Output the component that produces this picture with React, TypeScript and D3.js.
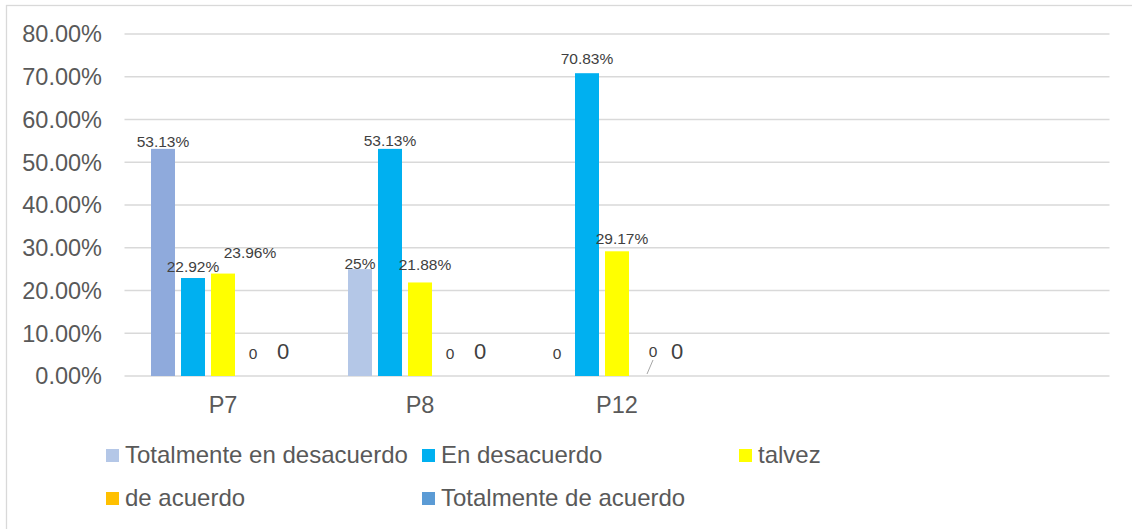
import * as d3 from 'd3';

// Categories (last two slots are empty in the original chart)
const categories = ['P7', 'P8', 'P12', '', ''];

const seriesNames = [
  'Totalmente en desacuerdo',
  'En desacuerdo',
  'talvez',
  'de acuerdo',
  'Totalmente de acuerdo',
];

// values in percent, one entry per category (null = no bar / no label)
const totalmenteEnDesacuerdo = [53.13, 25, 0, null, null];
const enDesacuerdo = [22.92, 53.13, 70.83, null, null];
const talvez = [23.96, 21.88, 29.17, null, null];
const deAcuerdo = [0, 0, 0, null, null];
const totalmenteDeAcuerdo = [0, 0, 0, null, null];

const yTicks = [0, 10, 20, 30, 40, 50, 60, 70, 80];

const seriesValues = [totalmenteEnDesacuerdo, enDesacuerdo, talvez, deAcuerdo, totalmenteDeAcuerdo];

const seriesColors = ['#B4C7E7', '#00B0F0', '#FFFF00', '#FFC000', '#5B9BD5'];
// first bar of P7 was recoloured in the original
const pointColor: Record<string, string> = { '0-0': '#8FAADC' };

// manual label moves, like in the source workbook (key = category-series)
const labelNudge: Record<string, [number, number]> = {
  '0-0': [0, 1],
  '0-1': [0, -3],
  '0-2': [27, -13],
  '1-0': [0, 3],
  '1-2': [5, -9],
  '2-1': [0, -6],
  '2-2': [5, -4],
  '2-3': [6, -2],
};

const font = '"Liberation Sans", Arial, sans-serif';
const W = 1132;
const H = 529;
const plot = { left: 124.5, right: 1109.5, top: 34, bottom: 376 };

export default function App() {
  const x0 = d3
    .scaleBand<number>()
    .domain(categories.map((_, i) => i))
    .range([plot.left, plot.right])
    .paddingInner(0.269)
    .paddingOuter(0.1345);

  const x1 = d3
    .scaleBand<number>()
    .domain(seriesNames.map((_, i) => i))
    .range([0, x0.bandwidth()])
    .paddingInner(0.2);

  const y = d3.scaleLinear().domain([0, 80]).range([plot.bottom, plot.top]);

  const bars: JSX.Element[] = [];
  const labels: JSX.Element[] = [];

  categories.forEach((_, ci) => {
    seriesValues.forEach((vals, si) => {
      const v = vals[ci];
      if (v === null || v === undefined) return;
      const key = `${ci}-${si}`;
      const bx = (x0(ci) || 0) + (x1(si) || 0);
      const bw = x1.bandwidth();
      const top = y(v);
      if (v > 0) {
        bars.push(
          <rect
            key={'b' + key}
            x={bx}
            y={top}
            width={bw}
            height={y(0) - top}
            fill={pointColor[key] || seriesColors[si]}
          />
        );
      }
      const [dx, dy] = labelNudge[key] || [0, 0];
      const cx = bx + bw / 2 + dx;
      const base = (v === 0 ? y(0) - 17 : top - 3) + dy;
      const big = v === 0 && si === 4;
      labels.push(
        <text
          key={'l' + key}
          x={cx}
          y={base}
          textAnchor="middle"
          fontSize={big ? 22 : 15.5}
          fill="#404040"
        >
          {v === 0 ? '0' : `${v}%`}
        </text>
      );
      if (key === '2-3') {
        labels.push(
          <line
            key={'ll' + key}
            x1={bx + bw / 2}
            y1={y(0) - 2}
            x2={cx}
            y2={base + 3}
            stroke="#A6A6A6"
            strokeWidth={1}
          />
        );
      }
    });
  });

  const legendCols = [106, 422, 739];
  const legendRows = [449, 492];

  return (
    <svg
      width={W}
      height={H}
      style={{ position: 'absolute', left: 0, top: 0, background: '#fff' }}
      fontFamily={font}
    >
      <rect x={0} y={0} width={W} height={H} fill="#fff" />
      <rect x={6.5} y={5.5} width={W + 20} height={H + 20} fill="none" stroke="#D9D9D9" strokeWidth={1.3} />

      {/* gridlines + y labels */}
      {yTicks.map((t) => (
        <g key={t}>
          <line x1={plot.left} x2={plot.right} y1={y(t)} y2={y(t)} stroke="#D9D9D9" strokeWidth={1.3} />
          <text x={102} y={y(t)} dy="0.36em" textAnchor="end" fontSize={23.5} fill="#595959">
            {d3.format('.2f')(t) + '%'}
          </text>
        </g>
      ))}

      {bars}

      {/* category labels */}
      {categories.map((c, i) => (
        <text key={i} x={(x0(i) || 0) + x0.bandwidth() / 2} y={413} textAnchor="middle" fontSize={23.5} fill="#595959">
          {c}
        </text>
      ))}

      {labels}

      {/* legend */}
      {seriesNames.map((name, i) => {
        const lx = legendCols[i % 3];
        const ly = legendRows[Math.floor(i / 3)];
        return (
          <g key={name}>
            <rect x={lx} y={ly} width={13} height={13} fill={seriesColors[i]} />
            <text x={lx + 19} y={ly + 14} fontSize={24} fill="#595959">
              {name}
            </text>
          </g>
        );
      })}
    </svg>
  );
}
